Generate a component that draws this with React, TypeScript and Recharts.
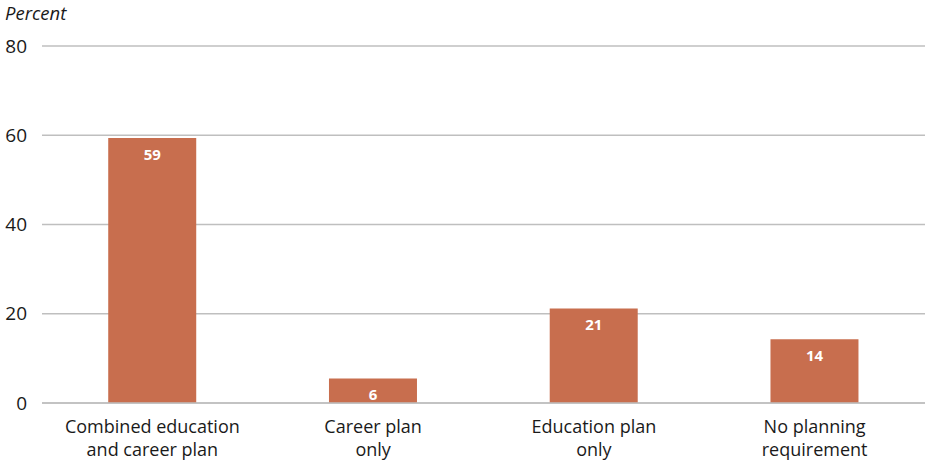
import { BarChart, Bar, XAxis, YAxis, CartesianGrid, LabelList } from 'recharts';

const categories = [
  ['Combined education', 'and career plan'],
  ['Career plan', 'only'],
  ['Education plan', 'only'],
  ['No planning', 'requirement'],
];
const percents = [59.4, 5.5, 21.2, 14.3];
const yTicks = [0, 20, 40, 60, 80];

const data = categories.map((lines, i) => ({ name: lines.join(' '), lines, value: percents[i] }));

const FONT = 'Open Sans, Lato, sans-serif';

function CategoryTick({ x, y, payload }: any) {
  const item = data.find((d) => d.name === payload.value);
  const lines = item ? item.lines : [payload.value];
  return (
    <g>
      {lines.map((line: string, i: number) => (
        <text key={i} x={x} y={y + 21.5 + i * 23} textAnchor="middle" fill="#1a1a1a" fontSize={18} fontFamily={FONT}>
          {line}
        </text>
      ))}
    </g>
  );
}

export default function App() {
  return (
    <div style={{ position: 'fixed', left: 0, top: 0, width: 925, height: 460, background: '#fff' }}>
      <BarChart width={925} height={460} data={data} margin={{ top: 46, right: 0, bottom: 0, left: 0 }} barCategoryGap="30%">
        <CartesianGrid vertical={false} stroke="#bfbfbf" strokeWidth={1.5} />
        <XAxis
          dataKey="name"
          height={57}
          tick={<CategoryTick />}
          tickLine={false}
          axisLine={{ stroke: '#bfbfbf', strokeWidth: 1.5 }}
          interval={0}
        />
        <YAxis
          width={42}
          domain={[0, 80]}
          ticks={yTicks}
          tickLine={false}
          axisLine={false}
          tickSize={0}
          tickMargin={15}
          tick={{ fontSize: 19, fill: '#1a1a1a', fontFamily: FONT }}
        />
        <Bar dataKey="value" fill="#c86e4e" isAnimationActive={false}>
          <LabelList
            dataKey="value"
            position="insideTop"
            offset={11}
            formatter={(v: any) => Math.round(Number(v))}
            fill="#ffffff"
            fontSize={15}
            fontWeight="bold"
            fontFamily={FONT}
          />
        </Bar>
        <text x={5} y={20} fontSize={18.5} fontStyle="italic" fill="#1a1a1a" fontFamily={FONT}>
          Percent
        </text>
      </BarChart>
    </div>
  );
}
